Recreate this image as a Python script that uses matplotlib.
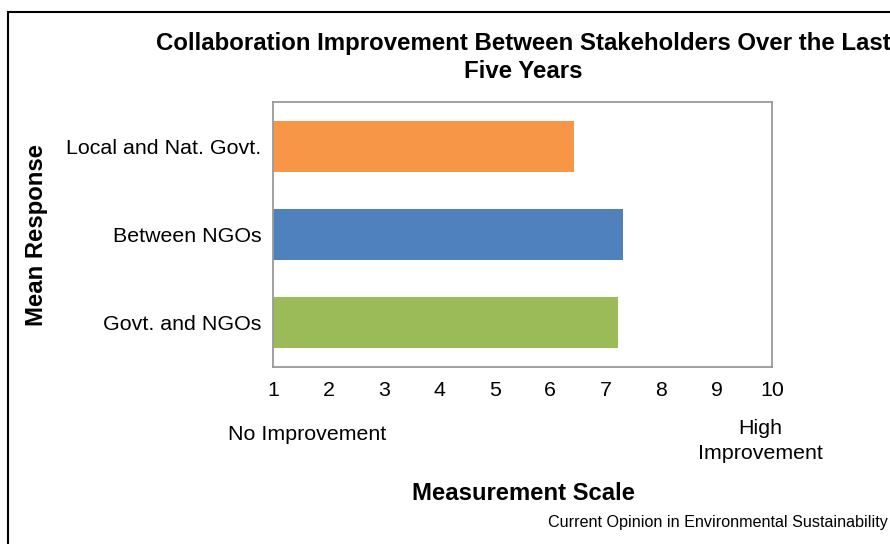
import matplotlib.pyplot as plt
from matplotlib.patches import Rectangle

# Data
categories = ['Local and Nat. Govt.', 'Between NGOs', 'Govt. and NGOs']
mean_response = [6.42, 7.32, 7.22]
bar_colors = ['#F79646', '#4F81BD', '#9BBB59']
scale_ticks = [1, 2, 3, 4, 5, 6, 7, 8, 9, 10]

plt.rcParams['font.family'] = ['Liberation Sans', 'DejaVu Sans']

W, H = 890, 544
fig = plt.figure(figsize=(W / 100, H / 100), dpi=100)

# Axes box in pixel coordinates
left, right, top, bottom = 273, 772, 102, 367
ax = fig.add_axes([left / W, 1 - bottom / H, (right - left) / W, (bottom - top) / H])

ypos = list(range(len(categories)))
ax.barh(ypos, [v - 1 for v in mean_response], left=1, height=0.58,
        color=bar_colors, zorder=2)
ax.set_xlim(1, 10)
ax.set_ylim(len(categories) - 0.5, -0.5)
ax.set_xticks(scale_ticks)
ax.set_yticks(ypos)
ax.set_yticklabels(categories)
ax.tick_params(axis='both', length=0, labelsize=15.4, colors='black')
ax.tick_params(axis='x', pad=10)
ax.tick_params(axis='y', pad=8.5)
for s in ax.spines.values():
    s.set_color('#999999')
    s.set_linewidth(1.3)

# Outer frame running off the right and bottom edges
fig.patches.append(Rectangle((8 / W, -0.1), 1.2, 1 - 12 / H + 0.1,
                             transform=fig.transFigure, fill=False,
                             edgecolor='black', linewidth=1.5))

def fx(px):
    return px / W

def fy(py):
    return 1 - py / H

fig.text(fx(523), fy(57.5), 'Collaboration Improvement Between Stakeholders Over the Last\nFive Years',
         ha='center', va='center', fontsize=17.3, fontweight='bold', linespacing=1.25)
fig.text(fx(37), fy(235), 'Mean Response', rotation=90, ha='center', va='center',
         fontsize=17.2, fontweight='bold')
fig.text(fx(523), fy(494), 'Measurement Scale', ha='center', va='center',
         fontsize=17.2, fontweight='bold')
fig.text(fx(307), fy(434), 'No Improvement', ha='center', va='center', fontsize=15.4)
fig.text(fx(760), fy(441), 'High\nImprovement', ha='center', va='center',
         fontsize=15.4, linespacing=1.45)
fig.text(fx(888), fy(523), 'Current Opinion in Environmental Sustainability',
         ha='right', va='center', fontsize=11.6)

fig.savefig('out.png', dpi=100)
